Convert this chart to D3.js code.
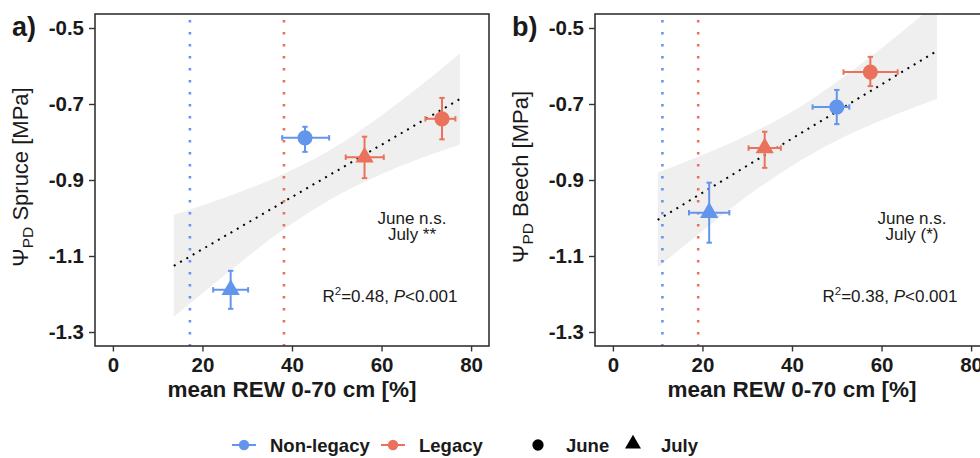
<!DOCTYPE html>
<html>
<head>
<meta charset="utf-8">
<script src="https://cdn.jsdelivr.net/npm/d3@7"></script>
<style>
  body { margin: 0; background: #fff; }
  svg { display: block; font-family: "Liberation Sans", Arial, sans-serif; }
</style>
</head>
<body>
<svg id="chart" width="980" height="458"></svg>
<script>
// ---- data ----
const groups = ["Non-legacy", "Legacy"];
const months = ["June", "July"];
const groupColors = ["#6495ED", "#EA725C"];
const xTicks = [0, 20, 40, 60, 80];
const yTicks = [-0.5, -0.7, -0.9, -1.1, -1.3];

// order of points: NL June, NL July, L June, L July
const ptGroup = [0, 0, 1, 1];
const ptMonth = [0, 1, 0, 1];

// a) spruce
const spruceRew   = [42.9, 26.3, 73.5, 56.2];
const spruceRewLo = [37.8, 22.4, 69.8, 52.0];
const spruceRewHi = [48.3, 30.2, 76.5, 60.5];
const sprucePsi   = [-0.789, -1.189, -0.739, -0.840];
const sprucePsiLo = [-0.826, -1.239, -0.793, -0.895];
const sprucePsiHi = [-0.760, -1.139, -0.684, -0.786];
const spruceVlines = [17.2, 38.2];           // Non-legacy, Legacy
const spruceFitX = [13.6, 77.5];
const spruceFitY = [-1.126, -0.687];
const spruceBandX  = [13.6, 25, 38, 48, 60, 77.5];
const spruceBandLo = [-1.260, -1.150, -1.031, -0.955, -0.884, -0.807];
const spruceBandHi = [-0.992, -0.946, -0.885, -0.825, -0.730, -0.567];

// b) beech
const beechRew   = [50.0, 21.5, 57.5, 33.9];
const beechRewLo = [44.6, 17.0, 51.5, 30.3];
const beechRewHi = [52.8, 26.0, 63.6, 37.5];
const beechPsi   = [-0.708, -0.986, -0.616, -0.816];
const beechPsiLo = [-0.753, -1.065, -0.653, -0.868];
const beechPsiHi = [-0.663, -0.907, -0.576, -0.773];
const beechVlines = [11.05, 19.05];
const beechFitX = [10.0, 72.4];
const beechFitY = [-1.005, -0.560];
const beechBandX  = [10, 20, 30, 41, 50, 60, 72.4];
const beechBandLo = [-1.130, -1.034, -0.942, -0.855, -0.796, -0.743, -0.686];
const beechBandHi = [-0.880, -0.834, -0.782, -0.713, -0.642, -0.553, -0.434];

const svg = d3.select("#chart");
const ink = "#1a1a1a";

// panel box inside each panel group
const box = { left: 95, top: 14, width: 394, height: 332 };

const xScale = d3.scaleLinear().domain([-4, 84]).range([0, box.width]);
const yScale = d3.scaleLinear().domain([-1.3368, -0.4632]).range([box.height, 0]);

function drawPanel(offsetX, cfg) {
  const g = svg.append("g").attr("transform", `translate(${offsetX},0)`);
  const clipId = "clip" + cfg.tag;
  g.append("clipPath").attr("id", clipId)
    .append("rect").attr("width", box.width).attr("height", box.height);

  const plot = g.append("g").attr("transform", `translate(${box.left},${box.top})`);
  const inner = plot.append("g").attr("clip-path", `url(#${clipId})`);

  // confidence band
  const band = cfg.bandX.map((x, i) => ({ x: x, lo: cfg.bandLo[i], hi: cfg.bandHi[i] }));
  inner.append("path")
    .datum(band)
    .attr("fill", "#efefef")
    .attr("d", d3.area().curve(d3.curveMonotoneX)
      .x(d => xScale(d.x)).y0(d => yScale(d.lo)).y1(d => yScale(d.hi)));

  // REW thresholds
  cfg.vlines.forEach((v, i) => {
    inner.append("line")
      .attr("x1", xScale(v)).attr("x2", xScale(v))
      .attr("y1", 6).attr("y2", box.height)
      .attr("stroke", groupColors[i])
      .attr("stroke-width", 2.6)
      .attr("stroke-dasharray", "2.6 9.4");
  });

  // fitted line
  inner.append("line")
    .attr("x1", xScale(cfg.fitX[0])).attr("y1", yScale(cfg.fitY[0]))
    .attr("x2", xScale(cfg.fitX[1])).attr("y2", yScale(cfg.fitY[1]))
    .attr("stroke", "#000").attr("stroke-width", 2)
    .attr("stroke-dasharray", "2 5.3");

  // error bars + points
  const pts = cfg.rew.map((x, i) => ({
    x: x, xlo: cfg.rewLo[i], xhi: cfg.rewHi[i],
    y: cfg.psi[i], ylo: cfg.psiLo[i], yhi: cfg.psiHi[i],
    col: groupColors[ptGroup[i]], month: ptMonth[i]
  }));
  const cap = 2.7;
  pts.forEach(p => {
    const e = inner.append("g").attr("stroke", p.col).attr("stroke-width", 2);
    const cx = xScale(p.x), cy = yScale(p.y);
    e.append("line").attr("x1", xScale(p.xlo)).attr("x2", xScale(p.xhi)).attr("y1", cy).attr("y2", cy);
    e.append("line").attr("x1", xScale(p.xlo)).attr("x2", xScale(p.xlo)).attr("y1", cy - cap).attr("y2", cy + cap);
    e.append("line").attr("x1", xScale(p.xhi)).attr("x2", xScale(p.xhi)).attr("y1", cy - cap).attr("y2", cy + cap);
    e.append("line").attr("x1", cx).attr("x2", cx).attr("y1", yScale(p.ylo)).attr("y2", yScale(p.yhi));
    e.append("line").attr("x1", cx - cap).attr("x2", cx + cap).attr("y1", yScale(p.ylo)).attr("y2", yScale(p.ylo));
    e.append("line").attr("x1", cx - cap).attr("x2", cx + cap).attr("y1", yScale(p.yhi)).attr("y2", yScale(p.yhi));
  });
  inner.selectAll("path.pt")
    .data(pts)
    .enter()
    .append("path")
    .attr("class", "pt")
    .attr("transform", d => `translate(${xScale(d.x)},${yScale(d.y)})`)
    .attr("d", d => d.month === 0
      ? d3.symbol(d3.symbolCircle, 180)()
      : d3.symbol(d3.symbolTriangle, 145)())
    .attr("fill", d => d.col);

  // annotations (two-line note kept in one text element)
  const note = plot.append("g").attr("fill", ink).attr("font-size", 17).attr("text-anchor", "middle");
  const sig = note.append("text").attr("x", 317).attr("y", 209.5);
  sig.append("tspan").attr("x", 317).text("June n.s.");
  sig.append("tspan").attr("x", 317).attr("dy", 16.5).text(cfg.julyNote);
  const r2 = note.append("text").attr("x", 295).attr("y", 288);
  r2.append("tspan").text("R");
  r2.append("tspan").attr("font-size", 11.5).attr("dy", -7).text("2");
  r2.append("tspan").attr("dy", 7).text(`=${cfg.r2}, `);
  r2.append("tspan").attr("font-style", "italic").text("P");
  r2.append("tspan").text("<0.001");

  // frame
  plot.append("rect")
    .attr("width", box.width).attr("height", box.height)
    .attr("fill", "none").attr("stroke", "#333").attr("stroke-width", 1.6);

  // axes
  const xAxis = plot.append("g")
    .attr("transform", `translate(0,${box.height})`)
    .call(d3.axisBottom(xScale).tickValues(xTicks).tickSize(5.5).tickPadding(6).tickFormat(d3.format("d")));
  const yAxis = plot.append("g")
    .call(d3.axisLeft(yScale).tickValues(yTicks).tickSize(6).tickPadding(5).tickFormat(d3.format(".1f")));
  [xAxis, yAxis].forEach(a => {
    a.select(".domain").remove();
    a.selectAll(".tick line").attr("stroke", "#333").attr("stroke-width", 1.4);
    a.selectAll(".tick text")
      .attr("fill", ink)
      .attr("font-size", 20.5)
      .attr("font-weight", "bold")
      .attr("font-family", "\"Liberation Sans\", Arial, sans-serif");
  });
  yAxis.selectAll(".tick text").text(d => d3.format(".1f")(d).replace("−", "-"));

  // axis titles
  g.append("text")
    .attr("x", box.left + box.width / 2).attr("y", 397)
    .attr("text-anchor", "middle")
    .attr("font-size", 22.5).attr("font-weight", "bold").attr("fill", ink)
    .text("mean REW 0-70 cm [%]");

  const yt = g.append("text")
    .attr("transform", "translate(28,177) rotate(-90)")
    .attr("text-anchor", "middle")
    .attr("font-size", 22).attr("fill", ink);
  yt.append("tspan").text("\u03A8");
  yt.append("tspan").attr("font-size", 15.5).attr("dy", 5).text("PD");
  yt.append("tspan").attr("dy", -5).text(" " + cfg.species + " [MPa]");

  // panel letter
  g.append("text")
    .attr("x", 12).attr("y", 36)
    .attr("font-size", 27).attr("font-weight", "bold").attr("fill", ink)
    .text(cfg.tag + ")");
}

drawPanel(0, {
  tag: "a", species: "Spruce", julyNote: "July **", r2: "0.48",
  rew: spruceRew, rewLo: spruceRewLo, rewHi: spruceRewHi,
  psi: sprucePsi, psiLo: sprucePsiLo, psiHi: sprucePsiHi,
  vlines: spruceVlines, fitX: spruceFitX, fitY: spruceFitY,
  bandX: spruceBandX, bandLo: spruceBandLo, bandHi: spruceBandHi
});
drawPanel(500, {
  tag: "b", species: "Beech", julyNote: "July (*)", r2: "0.38",
  rew: beechRew, rewLo: beechRewLo, rewHi: beechRewHi,
  psi: beechPsi, psiLo: beechPsiLo, psiHi: beechPsiHi,
  vlines: beechVlines, fitX: beechFitX, fitY: beechFitY,
  bandX: beechBandX, bandLo: beechBandLo, bandHi: beechBandHi
});

// ---- legend ----
const legend = svg.append("g").attr("transform", "translate(0,445)");
const legendCx = [244, 393];
groups.forEach((name, i) => {
  legend.append("line")
    .attr("x1", legendCx[i] - 12).attr("x2", legendCx[i] + 12)
    .attr("stroke", groupColors[i]).attr("stroke-width", 2);
  legend.append("path")
    .attr("transform", `translate(${legendCx[i]},0)`)
    .attr("d", d3.symbol(d3.symbolCircle, 85)())
    .attr("fill", groupColors[i]);
  legend.append("text")
    .attr("x", legendCx[i] + 26).attr("y", 6.5)
    .attr("font-size", 18.5).attr("font-weight", "bold").attr("fill", ink)
    .text(name);
});
const shapeCx = [538, 633];
months.forEach((name, i) => {
  legend.append("path")
    .attr("transform", `translate(${shapeCx[i]},${i === 0 ? 0 : -1})`)
    .attr("d", i === 0 ? d3.symbol(d3.symbolCircle, 100)() : d3.symbol(d3.symbolTriangle, 110)())
    .attr("fill", "#000");
  legend.append("text")
    .attr("x", shapeCx[i] + 28).attr("y", 6.5)
    .attr("font-size", 18.5).attr("font-weight", "bold").attr("fill", ink)
    .text(name);
});
</script>
</body>
</html>
